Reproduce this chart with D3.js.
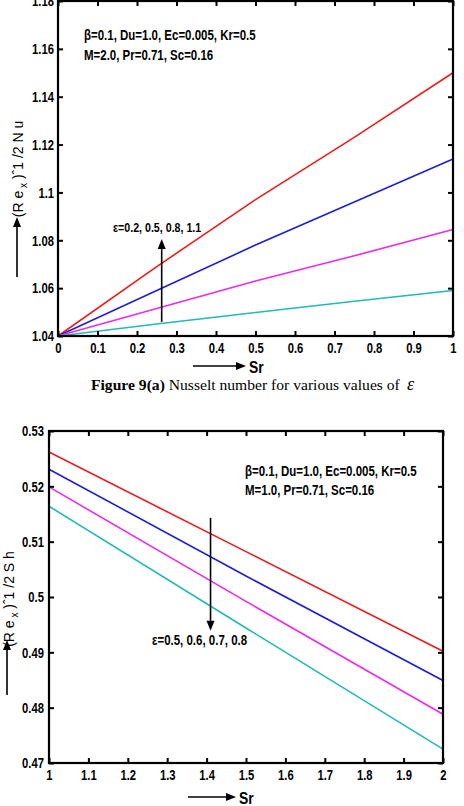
<!DOCTYPE html>
<html>
<head>
<meta charset="utf-8">
<script src="https://cdn.jsdelivr.net/npm/d3@7"></script>
<style>
  body { margin: 0; background: #fff; }
  svg { display: block; }
  .sans { font-family: "Liberation Sans", Arial, Helvetica, sans-serif; font-weight: bold; }
  .serif { font-family: "Liberation Serif", "Times New Roman", serif; }
</style>
</head>
<body>
<script>
// ---- data: figure 9(a), Nusselt number vs Sr ----
const srNu = [0, 0.25, 0.5, 0.75, 1];
const nuEps11 = [1.04, 1.069, 1.097, 1.123, 1.150];   // red
const nuEps08 = [1.04, 1.059, 1.078, 1.096, 1.114];   // blue
const nuEps05 = [1.04, 1.0515, 1.063, 1.0735, 1.0845]; // magenta
const nuEps02 = [1.04, 1.045, 1.0498, 1.0545, 1.059]; // cyan
const nuXTicks = [0, 0.1, 0.2, 0.3, 0.4, 0.5, 0.6, 0.7, 0.8, 0.9, 1];
const nuYTicks = [1.04, 1.06, 1.08, 1.1, 1.12, 1.14, 1.16, 1.18];

// ---- data: Sherwood number vs Sr ----
const srSh = [1, 1.5, 2];
const shEps05 = [0.5262, 0.5082, 0.4902]; // red
const shEps06 = [0.5231, 0.5038, 0.4849]; // blue
const shEps07 = [0.5199, 0.4992, 0.4788]; // magenta
const shEps08 = [0.5164, 0.4944, 0.4725]; // cyan
const shXTicks = [1, 1.1, 1.2, 1.3, 1.4, 1.5, 1.6, 1.7, 1.8, 1.9, 2];
const shYTicks = [0.47, 0.48, 0.49, 0.5, 0.51, 0.52, 0.53];

const colors = ["#ec1c1c", "#1c1fd2", "#ea2cea", "#22b9b9"];
const SX = 0.82;  // matlab fonts look squeezed horizontally
const TSX = 0.75; // tick labels

const svg = d3.select("body").append("svg")
  .attr("width", 464)
  .attr("height", 806);

svg.append("rect").attr("width", 464).attr("height", 806).attr("fill", "#fff");

function arrow(g, x1, y1, x2, y2) {
  const a = Math.atan2(y2 - y1, x2 - x1), len = 10, hw = 4;
  const bx = x2 - len * Math.cos(a), by = y2 - len * Math.sin(a);
  g.append("line")
    .attr("x1", x1).attr("y1", y1).attr("x2", bx).attr("y2", by)
    .attr("stroke", "#000").attr("stroke-width", 1.6);
  g.append("path")
    .attr("d", `M${x2},${y2}L${bx + hw * Math.sin(a)},${by - hw * Math.cos(a)}L${bx - hw * Math.sin(a)},${by + hw * Math.cos(a)}Z`)
    .attr("fill", "#000");
}

function squeezedText(g, x, y, str, size) {
  return g.append("text")
    .attr("class", "sans")
    .attr("transform", `translate(${x},${y}) scale(${SX},1)`)
    .attr("font-size", size)
    .text(str);
}

function fmt(d) { return String(+d.toFixed(2)); }

function panel(p) {
  const g = svg.append("g");
  const x = d3.scaleLinear().domain(p.xDomain).range([p.left, p.right]);
  const y = d3.scaleLinear().domain(p.yDomain).range([p.bottom, p.top]);

  // series
  const line = d3.line().x((d, i) => x(p.xs[i])).y(d => y(d));
  p.series.forEach((s, i) => {
    g.append("path")
      .datum(s)
      .attr("d", line)
      .attr("fill", "none")
      .attr("stroke", colors[i])
      .attr("stroke-width", 1.6);
  });

  // axes, matlab style ticks pointing inwards
  const ax = g.append("g").attr("transform", `translate(0,${p.bottom})`)
    .call(d3.axisBottom(x).tickValues(p.xTicks).tickFormat(fmt).tickSizeInner(-5).tickSizeOuter(0).tickPadding(6));
  const ay = g.append("g").attr("transform", `translate(${p.left},0)`)
    .call(d3.axisLeft(y).tickValues(p.yTicks).tickFormat(fmt).tickSizeInner(-5).tickSizeOuter(0).tickPadding(p.yPad));
  const at = g.append("g").attr("transform", `translate(0,${p.top})`)
    .call(d3.axisTop(x).tickValues(p.xTicks).tickFormat("").tickSizeInner(-5).tickSizeOuter(0));
  const ar = g.append("g").attr("transform", `translate(${p.right},0)`)
    .call(d3.axisRight(y).tickValues(p.yTicks).tickFormat("").tickSizeInner(-5).tickSizeOuter(0));

  [ax, ay, at, ar].forEach(a => {
    a.select(".domain").remove();
    a.selectAll("line").attr("stroke", "#000").attr("stroke-width", 2);
    a.selectAll("text")
      .attr("class", "sans")
      .attr("font-size", 15)
      .attr("fill", "#000");
  });
  ay.selectAll("text")
    .attr("x", -p.yPad / TSX)
    .attr("transform", `scale(${TSX},1)`);
  ax.selectAll("text")
    .attr("transform", `scale(${TSX},1)`);

  g.append("rect")
    .attr("x", p.left).attr("y", p.top)
    .attr("width", p.right - p.left).attr("height", p.bottom - p.top)
    .attr("fill", "none").attr("stroke", "#000").attr("stroke-width", 2.2);

  // parameter text
  squeezedText(g, p.paramX, p.paramY, p.params[0], 14);
  squeezedText(g, p.paramX, p.paramY + 19.5, p.params[1], 14);

  // epsilon arrow and label
  arrow(g, x(p.epsArrow.x), y(p.epsArrow.from), x(p.epsArrow.x), y(p.epsArrow.to));
  squeezedText(g, p.epsLabel.x, p.epsLabel.y, p.epsLabel.text, p.epsLabel.size);

  // axis titles
  arrow(g, p.xTitle.x1, p.xTitle.y, p.xTitle.x2, p.xTitle.y);
  squeezedText(g, p.xTitle.x2 + 3, p.xTitle.y + 7, "Sr", 17);

  arrow(g, p.yTitle.ax, p.yTitle.y1, p.yTitle.ax, p.yTitle.y2);
  const yt = g.append("text")
    .attr("class", "sans")
    .style("font-weight", "normal")
    .attr("font-size", 14)
    .attr("text-anchor", "middle")
    .attr("transform", `translate(${p.yTitle.tx},${p.yTitle.ty}) rotate(-90)`);
  yt.append("tspan").text("(R e");
  yt.append("tspan").attr("font-size", 10).attr("dy", 4).text(" x");
  yt.append("tspan").attr("dy", -4).text(" )ˆ1 /2  " + p.yTitle.sym);
}

panel({
  left: 58, right: 453, top: 1, bottom: 336,
  xDomain: [0, 1], yDomain: [1.04, 1.18],
  xs: srNu, series: [nuEps11, nuEps08, nuEps05, nuEps02],
  xTicks: nuXTicks, yTicks: nuYTicks, yPad: 4,
  params: ["β=0.1, Du=1.0, Ec=0.005, Kr=0.5", "M=2.0, Pr=0.71, Sc=0.16"],
  paramX: 84, paramY: 40,
  epsArrow: { x: 0.2625, from: 1.0459, to: 1.0805 },
  epsLabel: { x: 113, y: 232, text: "ε=0.2, 0.5, 0.8, 1.1", size: 13 },
  xTitle: { x1: 193, x2: 246, y: 366 },
  yTitle: { ax: 17, y1: 277, y2: 217, tx: 23, ty: 169, sym: "N u" }
});

panel({
  left: 49, right: 443, top: 431, bottom: 763,
  xDomain: [1, 2], yDomain: [0.47, 0.53],
  xs: srSh, series: [shEps05, shEps06, shEps07, shEps08],
  xTicks: shXTicks, yTicks: shYTicks, yPad: 5,
  params: ["β=0.1, Du=1.0, Ec=0.005, Kr=0.5", "M=1.0, Pr=0.71, Sc=0.16"],
  paramX: 245, paramY: 475.5,
  epsArrow: { x: 1.41, from: 0.5143, to: 0.4939 },
  epsLabel: { x: 152, y: 645, text: "ε=0.5, 0.6, 0.7, 0.8", size: 14 },
  xTitle: { x1: 188, x2: 236, y: 797 },
  yTitle: { ax: 7, y1: 695, y2: 640, tx: 14, ty: 599, sym: "S h" }
});

// caption between the panels, sized so "...values of" ends near x=400
const cap = svg.append("text")
  .attr("class", "serif")
  .attr("x", 91).attr("y", 390)
  .attr("font-size", 15);
cap.append("tspan").style("font-weight", "bold").text("Figure 9(a)");
cap.append("tspan").text(" Nusselt number for various values of");
const capW = cap.node().getComputedTextLength();
if (capW > 0) cap.attr("font-size", 15 * 309 / capW);
svg.append("text")
  .attr("class", "serif")
  .style("font-style", "italic")
  .attr("x", 407).attr("y", 390)
  .attr("font-size", 18)
  .text("ε");
</script>
</body>
</html>
